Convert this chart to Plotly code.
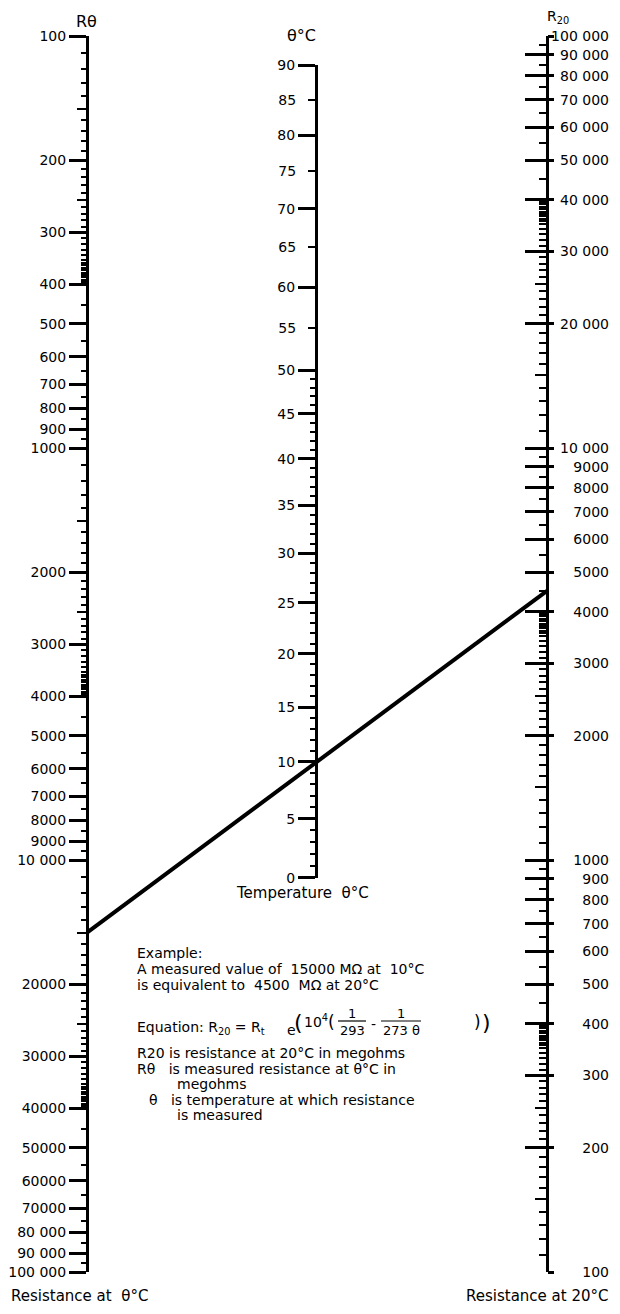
import numpy as np
import plotly.graph_objects as go

# the page has an 8px body margin, so the figure is that much smaller
OFF = 8
W, H = 620 - 2 * OFF, 1314 - 2 * OFF

# ---------------------------------------------------------
# scale values
# ---------------------------------------------------------
r_ticks = [100, 200, 300, 400, 500, 600, 700, 800, 900,
           1000, 2000, 3000, 4000, 5000, 6000, 7000, 8000, 9000,
           10000, 20000, 30000, 40000, 50000, 60000, 70000, 80000, 90000, 100000]
r_theta_labels = ["100", "200", "300", "400", "500", "600", "700", "800", "900",
                  "1000", "2000", "3000", "4000", "5000", "6000", "7000", "8000", "9000",
                  "10 000", "20000", "30000", "40000", "50000", "60000", "70000",
                  "80 000", "90 000", "100 000"]
r20_labels = ["100", "200", "300", "400", "500", "600", "700", "800", "900",
              "1000", "2000", "3000", "4000", "5000", "6000", "7000", "8000", "9000",
              "10 000", "20 000", "30 000", "40 000", "50 000", "60 000", "70 000",
              "80 000", "90 000", "100 000"]

# small ticks of one decade (100..1000), repeated x10 and x100
decade_minor = [110, 120, 130, 140, 160, 170, 180, 190,
                210, 220, 230, 240, 260, 270, 280, 290,
                310, 320, 330, 340, 350, 355, 360, 365, 370, 375, 380, 385, 390, 395,
                450, 550, 650, 750, 850, 950]
decade_mid = [150, 250]

temp_long = [0, 5, 10, 15, 20, 25, 30, 35, 40, 45, 50, 60, 70, 80, 90]
temp_short = [55, 65, 75, 85]
temp_minor = [t for t in range(1, 50) if t % 5]

example_r_theta = 15000   # MΩ
example_theta = 10        # °C
example_r20 = 4500        # MΩ

r_minor = [v * k for k in (1, 10, 100) for v in decade_minor]
r_mid = [v * k for k in (1, 10, 100) for v in decade_mid]

# ---------------------------------------------------------
# layout constants (page pixels)
# ---------------------------------------------------------
AX = dict(left=87, mid=316, right=547, labels=612)
Y_TOP, Y_BOT = 36, 1272
MIRROR = 100 * 100000   # right scale is the left one upside down


def px(x):
    return (x - OFF) / W


def py(y):
    return 1 - (y - OFF) / H


def temp_scale(t):
    # log10(R20 / Rθ) from the equation on the chart
    return 1e4 * (1 / 293 - 1 / (273 + t)) / np.log(10)


def g_to_pix(g):
    # middle scale sits half way between the two log scales
    return Y_TOP + (Y_BOT - Y_TOP) * (3 - g) / 6


FONT = dict(family="DejaVu Sans", size=14, color="black")
tick_font = dict(family="DejaVu Sans", size=14, color="black")

fig = go.Figure()

# example line, drawn on the left scale
fig.add_trace(go.Scatter(
    x=[AX["left"], AX["right"]],
    y=[example_r_theta, MIRROR / example_r20],
    mode="lines", line=dict(color="black", width=4),
    xaxis="x", yaxis="y", hoverinfo="skip", showlegend=False))

# empty traces so every axis gets drawn
for ya in ["y2", "y3", "y4", "y5", "y6", "y7", "y8"]:
    fig.add_trace(go.Scatter(x=[None], y=[None], xaxis="x", yaxis=ya,
                             hoverinfo="skip", showlegend=False))

dom = [py(Y_BOT), py(Y_TOP)]
base = dict(showgrid=False, zeroline=False, color="black", tickfont=tick_font)

g0, g90 = temp_scale(0), temp_scale(90)

fig.update_layout(
    width=W, height=H, template="none",
    margin=dict(l=0, r=0, t=0, b=0, pad=0),
    paper_bgcolor="white", plot_bgcolor="rgba(0,0,0,0)",
    font=FONT, showlegend=False,
    xaxis=dict(range=[OFF, OFF + W], domain=[0, 1], visible=False, fixedrange=True),
    # --- R theta (left) ---
    yaxis=dict(base, type="log", range=[5, 2], domain=dom, anchor="free",
               position=px(AX["left"]), side="left",
               showline=True, linewidth=3, linecolor="black",
               tickmode="array", tickvals=r_ticks, ticktext=r_theta_labels,
               ticks="outside", ticklen=17, tickwidth=2.5, tickcolor="black",
               minor=dict(tickmode="array", tickvals=r_minor, ticks="outside",
                          ticklen=5, tickwidth=1.5, tickcolor="black", showgrid=False)),
    yaxis2=dict(base, type="log", range=[5, 2], overlaying="y", anchor="free",
                position=px(AX["left"]), side="left", showline=False,
                tickmode="array", tickvals=r_mid, showticklabels=False,
                ticks="outside", ticklen=10, tickwidth=2, tickcolor="black"),
    # --- temperature (middle) ---
    yaxis3=dict(base, range=[g0, g90], domain=[py(g_to_pix(g0)), py(g_to_pix(g90))],
                anchor="free", position=px(AX["mid"]), side="left",
                showline=True, linewidth=3, linecolor="black",
                tickmode="array", tickvals=[temp_scale(t) for t in temp_long],
                ticktext=[str(t) for t in temp_long],
                ticks="outside", ticklen=17, tickwidth=2.5, tickcolor="black",
                minor=dict(tickmode="array", tickvals=[temp_scale(t) for t in temp_minor],
                           ticks="outside", ticklen=5, tickwidth=1.5,
                           tickcolor="black", showgrid=False)),
    yaxis4=dict(base, range=[g0, g90], overlaying="y3", anchor="free",
                position=px(AX["mid"]), side="left", showline=False,
                tickmode="array", tickvals=[temp_scale(t) for t in temp_short],
                ticktext=[str(t) for t in temp_short], ticklabelstandoff=9,
                ticks="outside", ticklen=8, tickwidth=2, tickcolor="black"),
    # --- R20 (right) ---
    yaxis5=dict(base, type="log", range=[2, 5], overlaying="y", anchor="free",
                position=px(AX["right"]), side="right",
                showline=True, linewidth=3, linecolor="black",
                tickmode="array", tickvals=r_ticks, showticklabels=False,
                ticks="inside", ticklen=21, tickwidth=2.5, tickcolor="black",
                minor=dict(tickmode="array", tickvals=r_minor, ticks="inside",
                           ticklen=7, tickwidth=1.5, tickcolor="black", showgrid=False)),
    yaxis6=dict(base, type="log", range=[2, 5], overlaying="y", anchor="free",
                position=px(AX["right"]), side="right", showline=False,
                tickmode="array", tickvals=r_ticks, showticklabels=False,
                ticks="outside", ticklen=6, tickwidth=2.5, tickcolor="black"),
    yaxis7=dict(base, type="log", range=[2, 5], overlaying="y", anchor="free",
                position=px(AX["right"]), side="right", showline=False,
                tickmode="array", tickvals=r_mid, showticklabels=False,
                ticks="inside", ticklen=12, tickwidth=2, tickcolor="black"),
    yaxis8=dict(base, type="log", range=[2, 5], overlaying="y", anchor="free",
                position=px(AX["labels"]), side="right", showline=False,
                tickmode="array", tickvals=r_ticks, ticktext=r20_labels,
                ticks="", ticklabelposition="inside", ticklabeloverflow="allow"),
)

# ---------------------------------------------------------
# texts
# ---------------------------------------------------------
body = 14
texts = [
    # x, y, text, anchor, size
    (86, 21, "Rθ", "center", 16),
    (301, 36, "θ°C", "center", 16),
    (558, 17, "R<sub>20</sub>", "center", 14),
    (234, 893, "Temperature  θ°C", "left", 15),
    (9, 1296, "Resistance at  θ°C", "left", 15),
    (611, 1296, "Resistance at 20°C", "right", 15),
    (135, 953, "Example:", "left", body),
    (135, 969, "A measured value of  15000 MΩ at  10°C", "left", body),
    (135, 985, "is equivalent to  4500  MΩ at 20°C", "left", body),
    (135, 1028, "Equation: R<sub>20</sub> = R<sub>t</sub>", "left", body),
    (291, 1030, "e", "center", body),
    (298, 1022, "(", "center", 22),
    (316, 1021, "10<sup>4</sup>", "center", 14),
    (331, 1022, "(", "center", 17),
    (352, 1013, "1", "center", 13),
    (352, 1030, "293", "center", 13),
    (373, 1024, "-", "center", 14),
    (401, 1013, "1", "center", 13),
    (401, 1030, "273 θ", "center", 13),
    (477, 1022, ")", "center", 17),
    (486, 1022, ")", "center", 22),
    (135, 1053, "R20 is resistance at 20°C in megohms", "left", body),
    (135, 1069, "Rθ   is measured resistance at θ°C in", "left", body),
    (175, 1084, "megohms", "left", body),
    (147, 1100, "θ   is temperature at which resistance", "left", body),
    (175, 1115, "is measured", "left", body),
]

for x, y, t, anchor, size in texts:
    fig.add_annotation(x=px(x), y=py(y), xref="paper", yref="paper", text=t,
                       showarrow=False, xanchor=anchor, yanchor="middle",
                       font=dict(FONT, size=size))

# fraction bars
for x0, x1 in [(338, 366), (381, 421)]:
    fig.add_shape(type="line", xref="x", yref="paper", x0=x0, x1=x1,
                  y0=py(1021), y1=py(1021), line=dict(color="black", width=1.2))

fig.write_html("out.html")
